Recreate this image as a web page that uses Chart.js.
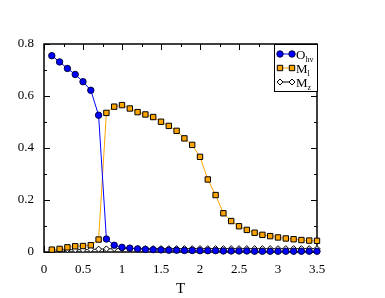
<!DOCTYPE html>
<html>
<head>
<meta charset="utf-8">
<script src="https://cdn.jsdelivr.net/npm/chart.js@4"></script>
<style>
  html, body { margin: 0; padding: 0; background: #fff; }
  #box { width: 385px; height: 298px; }
</style>
</head>
<body>
<div id="box"><canvas id="chart"></canvas></div>
<script>
var temps = [0.1, 0.2, 0.3, 0.4, 0.5, 0.6, 0.7, 0.8, 0.9, 1.0,
             1.1, 1.2, 1.3, 1.4, 1.5, 1.6, 1.7, 1.8, 1.9, 2.0,
             2.1, 2.2, 2.3, 2.4, 2.5, 2.6, 2.7, 2.8, 2.9, 3.0,
             3.1, 3.2, 3.3, 3.4, 3.5];
var oHv = [0.755, 0.731, 0.706, 0.683, 0.655, 0.622, 0.526, 0.050, 0.026, 0.018,
           0.015, 0.012, 0.010, 0.009, 0.008, 0.007, 0.007, 0.006, 0.006, 0.005,
           0.005, 0.005, 0.004, 0.004, 0.004, 0.004, 0.003, 0.003, 0.003, 0.003,
           0.003, 0.003, 0.003, 0.003, 0.003];
var mL = [0.009, 0.012, 0.018, 0.022, 0.023, 0.026, 0.048, 0.535, 0.559, 0.565,
          0.552, 0.538, 0.529, 0.519, 0.501, 0.485, 0.466, 0.437, 0.412, 0.366,
          0.279, 0.219, 0.149, 0.119, 0.099, 0.085, 0.074, 0.066, 0.061, 0.056,
          0.052, 0.049, 0.046, 0.044, 0.043];
var mZ = [0.008, 0.008, 0.009, 0.009, 0.009, 0.010, 0.011, 0.012, 0.013, 0.013,
          0.013, 0.013, 0.013, 0.013, 0.013, 0.013, 0.013, 0.013, 0.013, 0.013,
          0.013, 0.013, 0.013, 0.013, 0.013, 0.013, 0.013, 0.013, 0.013, 0.013,
          0.013, 0.013, 0.013, 0.013, 0.013];
var xTicks = [0, 0.5, 1, 1.5, 2, 2.5, 3, 3.5];
var yTicks = [0, 0.2, 0.4, 0.6, 0.8];

var serif = "'Liberation Serif', 'DejaVu Serif', serif";

function toPoints(xs, ys)
{
    var pts = [];
    for (var i = 0; i < xs.length; i++)
    {
        pts.push({x: xs[i], y: ys[i]});
    }
    return pts;
}

// frame, inward ticks on all four sides, and the legend box
var framePlugin = {
    id: "frame",
    beforeDatasetsDraw: function (chart) {
        var ctx = chart.ctx;
        var a = chart.chartArea;
        var xs = chart.scales.x, ys = chart.scales.y;
        ctx.save();
        ctx.strokeStyle = "#000";
        ctx.lineWidth = 1;
        ctx.beginPath();
        for (var v = 0; v <= 3.5001; v += 0.25)
        {
            var px = Math.round(xs.getPixelForValue(v)) + 0.5;
            var len = (Math.abs(v * 2 - Math.round(v * 2)) < 1e-6) ? 6 : 3;
            ctx.moveTo(px, a.bottom); ctx.lineTo(px, a.bottom - len);
            ctx.moveTo(px, a.top); ctx.lineTo(px, a.top + len);
        }
        for (var w = 0; w <= 0.8001; w += 0.1)
        {
            var py = Math.round(ys.getPixelForValue(w)) + 0.5;
            var l2 = (Math.abs(w * 5 - Math.round(w * 5)) < 1e-6) ? 6 : 3;
            ctx.moveTo(a.left, py); ctx.lineTo(a.left + l2, py);
            ctx.moveTo(a.right, py); ctx.lineTo(a.right - l2, py);
        }
        ctx.stroke();
        ctx.lineWidth = 1.5;
        ctx.strokeRect(a.left, a.top, a.right - a.left, a.bottom - a.top);
        ctx.restore();
    },
    afterDatasetsDraw: function (chart) {
        var ctx = chart.ctx;
        var a = chart.chartArea;
        var bx = a.right - 43, by = a.top, bw = 43, bh = 47;
        ctx.save();
        ctx.fillStyle = "#fff";
        ctx.fillRect(bx, by, bw, bh);
        ctx.strokeStyle = "#000";
        ctx.lineWidth = 1;
        ctx.strokeRect(bx + 0.5, by + 0.5, bw, bh);
        var entries = [
            {main: "O", sub: "hv", line: "#0000ff", fill: "#0000ff", edge: "#000040", shape: "circle"},
            {main: "M", sub: "l", line: "#ffa500", fill: "#ffa500", edge: "#000", shape: "square"},
            {main: "M", sub: "z", line: "#000", fill: "#fff", edge: "#000", shape: "diamond"}
        ];
        for (var i = 0; i < entries.length; i++)
        {
            var e = entries[i];
            var y = by + 10 + i * 14;
            var x1 = bx + 6, x2 = bx + 18;
            ctx.strokeStyle = e.line;
            ctx.lineWidth = 1;
            ctx.beginPath(); ctx.moveTo(x1, y); ctx.lineTo(x2, y); ctx.stroke();
            [x1, x2].forEach(function (mx) {
                ctx.fillStyle = e.fill;
                ctx.strokeStyle = e.edge;
                ctx.beginPath();
                if (e.shape == "circle") { ctx.arc(mx, y, 3.2, 0, Math.PI * 2); }
                else if (e.shape == "square") { ctx.rect(mx - 2.7, y - 2.7, 5.4, 5.4); }
                else { ctx.moveTo(mx, y - 3); ctx.lineTo(mx + 3, y); ctx.lineTo(mx, y + 3); ctx.lineTo(mx - 3, y); ctx.closePath(); }
                ctx.fill(); ctx.stroke();
            });
            ctx.fillStyle = "#000";
            ctx.textBaseline = "alphabetic";
            ctx.font = "13px " + serif;
            ctx.fillText(e.main, bx + 22, y + 5);
            var mw = ctx.measureText(e.main).width;
            ctx.font = "8px " + serif;
            ctx.fillText(e.sub, bx + 22 + mw, y + 8);
        }
        ctx.restore();
    }
};

function plainLabel(value)
{
    return String(Math.round(value * 10) / 10);
}

var chart = new Chart(document.getElementById("chart"), {
    type: "line",
    data: {
        datasets: [
            {
                label: "Ohv",
                data: toPoints(temps, oHv),
                borderColor: "#0000ff",
                borderWidth: 1,
                pointStyle: "circle",
                pointRadius: 3.2,
                pointBackgroundColor: "#0000ff",
                pointBorderColor: "#000040",
                pointBorderWidth: 1
            },
            {
                label: "Ml",
                data: toPoints(temps, mL),
                borderColor: "#ffa500",
                borderWidth: 1,
                pointStyle: "rect",
                pointRadius: 3.8,
                pointBackgroundColor: "#ffa500",
                pointBorderColor: "#000",
                pointBorderWidth: 1
            },
            {
                label: "Mz",
                data: toPoints(temps, mZ),
                borderColor: "#000",
                borderWidth: 0.8,
                pointStyle: "rectRot",
                pointRadius: 3,
                pointBackgroundColor: "#fff",
                pointBorderColor: "#000",
                pointBorderWidth: 1
            }
        ]
    },
    options: {
        responsive: true,
        maintainAspectRatio: false,
        animation: false,
        clip: false,
        layout: {padding: {left: 0, right: 68, top: 44, bottom: 0}},
        plugins: {
            legend: {display: false},
            tooltip: {enabled: false}
        },
        scales: {
            x: {
                type: "linear",
                min: 0,
                max: 3.5,
                afterBuildTicks: function (s) { s.ticks = xTicks.map(function (v) { return {value: v}; }); },
                afterFit: function (s) { s.height = 46; },
                grid: {display: false},
                border: {display: false},
                ticks: {color: "#000", padding: 2, font: {family: serif, size: 13}, callback: plainLabel},
                title: {display: true, text: "T", color: "#000", padding: {top: 0, bottom: 0}, font: {family: serif, size: 15}}
            },
            y: {
                min: 0,
                max: 0.8,
                afterBuildTicks: function (s) { s.ticks = yTicks.map(function (v) { return {value: v}; }); },
                afterFit: function (s) { s.width = 44; },
                grid: {display: false},
                border: {display: false},
                ticks: {color: "#000", padding: 2, font: {family: serif, size: 13}, callback: plainLabel}
            }
        }
    },
    plugins: [framePlugin]
});
</script>
</body>
</html>
